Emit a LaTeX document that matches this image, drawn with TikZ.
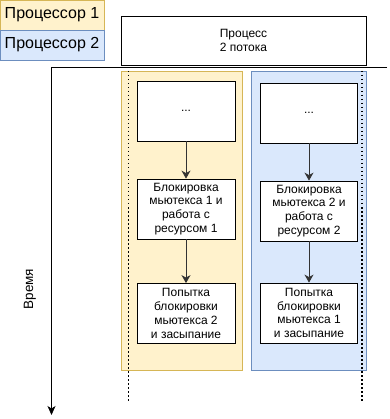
\documentclass[tikz,border=0pt]{standalone}
\usepackage{fontspec}
\setmainfont{Liberation Sans}
\usetikzlibrary{arrows.meta}

\definecolor{cpuayellow}{HTML}{FFF2CC}
\definecolor{cpuaedge}{HTML}{D6B656}
\definecolor{cpubblue}{HTML}{DAE8FC}
\definecolor{cpubedge}{HTML}{6C8EBF}

\newcommand{\boxfont}{\fontsize{12}{13.8}\selectfont}

\begin{document}
\begin{tikzpicture}[
      x=1pt, y=-1pt,
      font=\boxfont,
      legend/.style={draw, line width=0.8pt, minimum width=104pt,
        minimum height=30pt, inner sep=0pt, font=\fontsize{16}{18}\selectfont},
      lane/.style={draw, line width=0.8pt, inner sep=0pt},
      stepbox/.style={draw=black, line width=0.8pt, fill=white, align=center,
        minimum width=98pt, minimum height=60pt, inner sep=1pt},
      thread/.style={line width=1.6pt, dash pattern=on 1.5pt off 2.5pt},
      flow/.style={-{Stealth[length=8pt, width=9pt, inset=2.5pt]}, line width=0.8pt, draw=black!80},
      axis/.style={-{Stealth[length=9pt, width=8pt, inset=2.5pt]}, line width=0.8pt}
    ]
    \useasboundingbox (0,0) rectangle (389,419);

    % legend
    \node[legend, fill=cpuayellow, draw=cpuaedge] (cpu1) at (52,15) {Процессор 1};
    \node[legend, fill=cpubblue, draw=cpubedge] (cpu2) at (52,45) {Процессор 2};

    \node[stepbox, minimum width=245pt, minimum height=49pt] (process) at (243.5,40.5)
      {Процесс\\2 потока};

    % time axis
    \coordinate (axtop) at (51.5,67.5);
    \coordinate (axright) at (387,67.5);
    \coordinate (axend) at (51.5,415);
    \draw[line width=0.8pt] (axright) -- (axtop);
    \draw[axis] (axtop) -- (axend);
    \node[rotate=90, font=\fontsize{13.5}{15}\selectfont] (timelabel) at (30,289) {Время};

    % processor lanes
    \node[lane, fill=cpuayellow, draw=cpuaedge, minimum width=121pt,
      minimum height=299pt] (lane1) at (181.5,220.5) {};
    \node[lane, fill=cpubblue, draw=cpubedge, minimum width=115pt,
      minimum height=299pt] (lane2) at (308.5,220.5) {};

    % threads
    \coordinate (th1top) at (128.5,71);
    \coordinate (th1end) at (128.5,401);
    \coordinate (th2top) at (362,71);
    \coordinate (th2end) at (362,401);
    \draw[thread] (th1top) -- (th1end);
    \draw[thread] (th2top) -- (th2end);

    \node[stepbox] (idle1) at (186,111) {...};
    \node[stepbox] (lock1) at (186,209)
      {Блокировка\\мьютекса 1 и\\работа с\\ресурсом 1};
    \node[stepbox] (wait1) at (186,313.5)
      {Попытка\\блокировки\\мьютекса 2\\и засыпание};

    \node[stepbox, minimum width=97pt] (idle2) at (309,113) {...};
    \node[stepbox, minimum width=97pt] (lock2) at (309,211)
      {Блокировка\\мьютекса 2 и\\работа с\\ресурсом 2};
    \node[stepbox, minimum width=97pt] (wait2) at (309,313)
      {Попытка\\блокировки\\мьютекса 1\\и засыпание};

    \draw[flow] (idle1) -- (lock1);
    \draw[flow] (lock1) -- (wait1);
    \draw[flow] (idle2) -- (lock2);
    \draw[flow] (lock2) -- (wait2);
  \end{tikzpicture}
\end{document}
